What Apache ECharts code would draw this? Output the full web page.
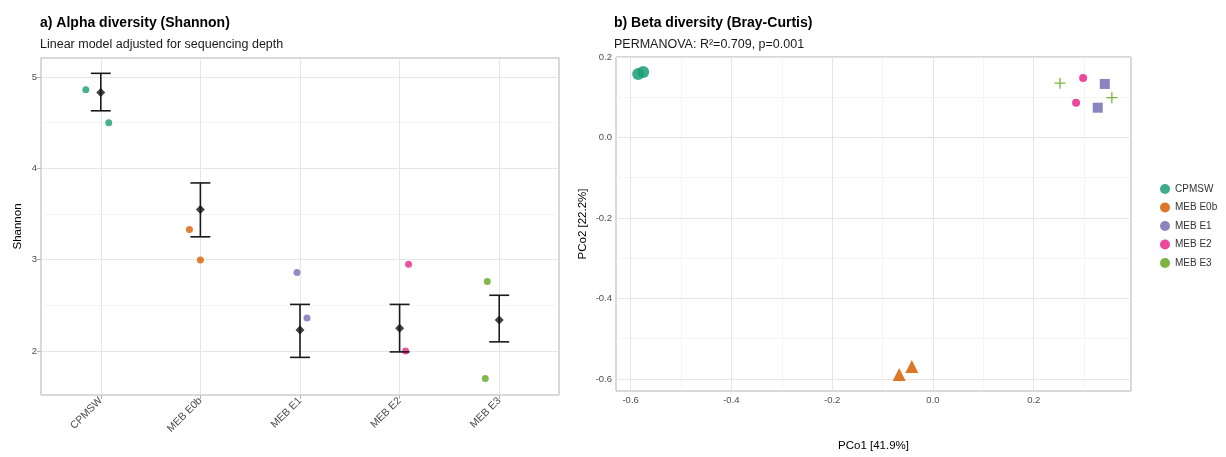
<!DOCTYPE html>
<html><head><meta charset="utf-8">
<script src="https://cdn.jsdelivr.net/npm/echarts@6/dist/echarts.min.js"></script>
<style>html,body{margin:0;padding:0;background:#fff}#c{width:1226px;height:457px}</style>
</head><body><div id="c"></div>
<script>
// ---------- data ----------
const groups = ['CPMSW', 'MEB E0b', 'MEB E1', 'MEB E2', 'MEB E3'];
const groupColors = ['#1B9E77', '#D95F02', '#7570B3', '#E7298A', '#66A61E'];

// Panel a: Shannon per sample (2 per group) + jitter offsets
const shannonSamples = [[4.86, 4.50], [3.33, 2.995], [2.86, 2.36], [2.95, 2.00], [2.76, 1.70]];
const shannonJitter = [[-0.15, 0.08], [-0.11, 0.0], [-0.03, 0.07], [0.09, 0.06], [-0.12, -0.14]];
const shannonMean = [4.83, 3.55, 2.23, 2.25, 2.34];
const shannonLow = [4.63, 3.25, 1.93, 1.99, 2.10];
const shannonHigh = [5.04, 3.84, 2.51, 2.51, 2.61];
const shannonTicks = [2, 3, 4, 5];
const shannonMinor = [1.5, 2.5, 3.5, 4.5];

// Panel b: PCoA coordinates (2 samples per group)
const pc1Values = [[-0.585, -0.575], [-0.067, -0.042], [0.341, 0.327], [0.298, 0.284], [0.252, 0.355]];
const pc2Values = [[0.158, 0.163], [-0.589, -0.569], [0.133, 0.074], [0.148, 0.086], [0.135, 0.099]];
const pc1Ticks = [-0.6, -0.4, -0.2, 0.0, 0.2];
const pc1Minor = [-0.5, -0.3, -0.1, 0.1, 0.3];
const pc2Ticks = [-0.6, -0.4, -0.2, 0.0, 0.2];
const pc2Minor = [-0.5, -0.3, -0.1, 0.1];

// ---------- styles ----------
const plusPath = 'path://M4.4,0h1.2v4.4h4.4v1.2h-4.4v4.4h-1.2v-4.4h-4.4v-1.2h4.4z';
const pcoaSymbols = ['circle', 'triangle', 'rect', 'circle', plusPath];
const pcoaSizes = [12, 13, 10, 8, 11];
const FONT = '"Liberation Sans", Arial, Helvetica, sans-serif';
const AX_TXT = '#4d4d4d';
const BORDER = '#b3b3b3';
const GRID_MAJ = '#e3e3e3';
const GRID_MIN = '#efefef';

const catPositions = groups.map((g, i) => i + 1);

function gridLines(xi, yi, xs, ys, color, width) {
  const d = [];
  xs.forEach(v => d.push({ xAxis: v }));
  ys.forEach(v => d.push({ yAxis: v }));
  return {
    type: 'line', xAxisIndex: xi, yAxisIndex: yi, data: [], z: 1, silent: true,
    markLine: { silent: true, z: 1, symbol: 'none', animation: false, label: { show: false },
      lineStyle: { color: color, width: width, type: 'solid' }, emphasis: { disabled: true }, data: d }
  };
}

const series = [];
series.push(gridLines(0, 0, [], shannonMinor, GRID_MIN, 0.6));
series.push(gridLines(0, 0, catPositions, shannonTicks, GRID_MAJ, 0.9));
series.push(gridLines(1, 1, pc1Minor, pc2Minor, GRID_MIN, 0.6));
series.push(gridLines(1, 1, pc1Ticks, pc2Ticks, GRID_MAJ, 0.9));

// panel a sample points
groups.forEach((g, i) => {
  series.push({
    name: 'a ' + g, type: 'scatter', xAxisIndex: 0, yAxisIndex: 0, z: 3,
    symbol: 'circle', symbolSize: 7,
    itemStyle: { color: groupColors[i], opacity: 0.8 },
    data: shannonSamples[i].map((v, j) => [catPositions[i] + shannonJitter[i][j], v])
  });
});
// error bars
series.push({
  type: 'custom', xAxisIndex: 0, yAxisIndex: 0, z: 4,
  data: groups.map((g, i) => [catPositions[i], shannonLow[i], shannonHigh[i]]),
  renderItem: function (params, api) {
    const x = api.value(0);
    const top = api.coord([x, api.value(2)]);
    const bot = api.coord([x, api.value(1)]);
    const hw = api.size([0.1, 0])[0];
    const st = { stroke: '#1a1a1a', lineWidth: 1.6 };
    return { type: 'group', children: [
      { type: 'line', shape: { x1: top[0], y1: top[1], x2: bot[0], y2: bot[1] }, style: st },
      { type: 'line', shape: { x1: top[0] - hw, y1: top[1], x2: top[0] + hw, y2: top[1] }, style: st },
      { type: 'line', shape: { x1: bot[0] - hw, y1: bot[1], x2: bot[0] + hw, y2: bot[1] }, style: st }
    ] };
  }
});
// means
series.push({
  type: 'scatter', xAxisIndex: 0, yAxisIndex: 0, z: 5,
  symbol: 'diamond', symbolSize: 9, itemStyle: { color: '#111' },
  data: groups.map((g, i) => [catPositions[i], shannonMean[i]])
});

// panel b
groups.forEach((g, i) => {
  series.push({
    name: g, type: 'scatter', xAxisIndex: 1, yAxisIndex: 1, z: 3,
    symbol: pcoaSymbols[i], symbolSize: pcoaSizes[i],
    itemStyle: { color: groupColors[i], opacity: 0.85 },
    data: pc1Values[i].map((v, j) => [v, pc2Values[i][j]])
  });
});

const axBase = {
  axisLine: { show: false },
  splitLine: { show: false },
  axisTick: { show: true, length: 4, lineStyle: { color: BORDER, width: 1 } },
  axisLabel: { fontSize: 9.5, color: AX_TXT, margin: 4, fontFamily: FONT },
  nameTextStyle: { fontSize: 11.5, color: '#000', fontFamily: FONT }
};
function ax(extra) {
  const o = JSON.parse(JSON.stringify(axBase));
  for (const k in extra) {
    if (typeof extra[k] === 'object' && !Array.isArray(extra[k]) && o[k]) Object.assign(o[k], extra[k]);
    else o[k] = extra[k];
  }
  return o;
}

const xA = ax({ type: 'value', gridIndex: 0, min: 0.4, max: 5.6,
  axisTick: { customValues: catPositions },
  axisLabel: { customValues: catPositions, rotate: 45, margin: 4, fontSize: 10.5 } });
xA.axisLabel.formatter = v => groups[Math.round(v) - 1];

const yA = ax({ type: 'value', gridIndex: 0, min: 1.518, max: 5.208,
  axisTick: { customValues: shannonTicks },
  axisLabel: { customValues: shannonTicks },
  name: 'Shannon', nameLocation: 'middle', nameGap: 17 });
yA.axisLabel.formatter = v => String(v);

const xB = ax({ type: 'value', gridIndex: 1, min: -0.629, max: 0.393,
  axisTick: { customValues: pc1Ticks },
  axisLabel: { customValues: pc1Ticks },
  name: 'PCo1 [41.9%]', nameLocation: 'middle', nameGap: 49 });
xB.axisLabel.formatter = v => v.toFixed(1);

const yB = ax({ type: 'value', gridIndex: 1, min: -0.63, max: 0.2,
  axisTick: { customValues: pc2Ticks },
  axisLabel: { customValues: pc2Ticks },
  name: 'PCo2 [22.2%]', nameLocation: 'middle', nameGap: 27 });
yB.axisLabel.formatter = v => v.toFixed(1);

const chart = echarts.init(document.getElementById('c'), null, { renderer: 'canvas' });
chart.setOption({
  animation: false,
  backgroundColor: '#fff',
  textStyle: { fontFamily: FONT },
  title: [
    { text: 'a) Alpha diversity (Shannon)', left: 35, top: 11, textStyle: { fontSize: 14, fontWeight: 'bold', color: '#000', fontFamily: FONT } },
    { text: 'Linear model adjusted for sequencing depth', left: 35, top: 33, textStyle: { fontSize: 12.5, fontWeight: 'normal', color: '#1a1a1a', fontFamily: FONT } },
    { text: 'b) Beta diversity (Bray-Curtis)', left: 609, top: 11, textStyle: { fontSize: 14, fontWeight: 'bold', color: '#000', fontFamily: FONT } },
    { text: 'PERMANOVA: R²=0.709, p=0.001', left: 609, top: 33, textStyle: { fontSize: 12.5, fontWeight: 'normal', color: '#1a1a1a', fontFamily: FONT } }
  ],
  legend: {
    orient: 'vertical', left: 1155, top: 179, itemWidth: 10, itemHeight: 10, itemGap: 8.5,
    icon: 'circle', data: groups, selectedMode: false,
    textStyle: { fontSize: 10, color: '#333', fontFamily: FONT }
  },
  grid: [
    { left: 41, top: 58, width: 518, height: 337, show: true, borderColor: BORDER, borderWidth: 1, backgroundColor: '#fff', containLabel: false },
    { left: 616, top: 57, width: 515, height: 337, show: true, borderColor: BORDER, borderWidth: 1, backgroundColor: '#fff', containLabel: false }
  ],
  xAxis: [xA, xB],
  yAxis: [yA, yB],
  series: series
});
</script></body></html>
